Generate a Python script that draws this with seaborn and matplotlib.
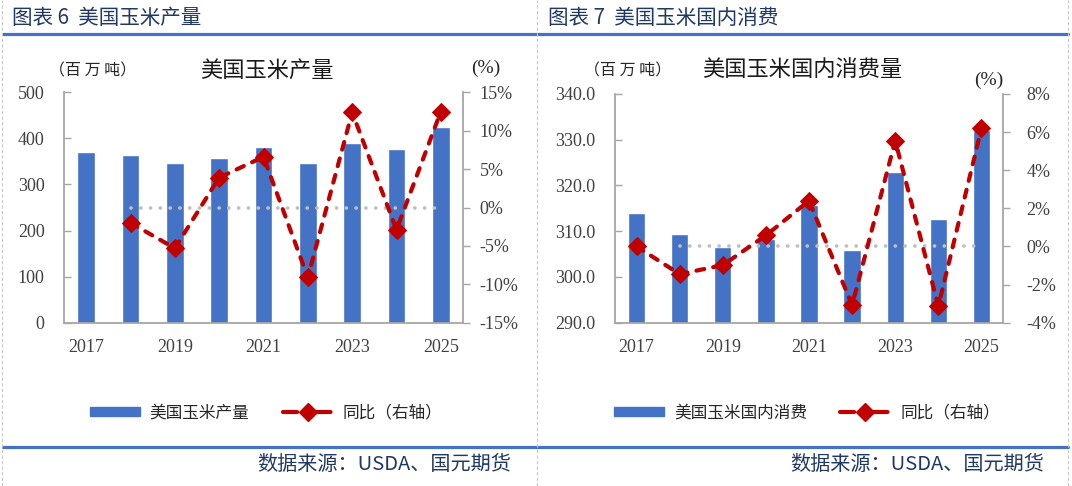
import numpy as np
import pandas as pd
import matplotlib
matplotlib.use("Agg")
import matplotlib.pyplot as plt
from matplotlib.patches import Patch
from matplotlib.lines import Line2D
import seaborn as sns

# data
years = ["2017", "2018", "2019", "2020", "2021", "2022", "2023", "2024", "2025"]
year_labels = ["2017", "", "2019", "", "2021", "", "2023", "", "2025"]

prod = [371, 364, 346, 358, 382, 347, 389, 378, 425]               # 百万吨
prod_yoy = [np.nan, -2.0, -5.3, 3.9, 6.6, -9.1, 12.4, -2.9, 12.5]   # %

cons = [314.0, 309.5, 306.5, 308.2, 315.7, 305.9, 322.9, 312.7, 332.1]
cons_yoy = [0.0, -1.45, -0.98, 0.58, 2.4, -3.08, 5.55, -3.13, 6.19]

zero_line = [np.nan, 0, 0, 0, 0, 0, 0, 0, 0]

sns.set_theme(style="white")
plt.rcParams['font.family'] = ['Noto Sans CJK SC', 'DejaVu Sans']

BLUE = "#4472C4"
RED = "#C00000"
NAVY = "#1F3864"
GREY_TXT = "#404040"
SPINE = "#A6A6A6"
SERIF = "Liberation Serif"

fig = plt.figure(figsize=(10.72, 4.86), dpi=100)


def panel(rect, vals, yoy, ylim, yticks, yfmt, y2lim, y2ticks, title, bar_name,
          title_x, unit_x, pct_xy, leg_x, r_pad):
    ax = fig.add_axes(rect)
    df = pd.DataFrame({"year": years, "v": vals, "yoy": yoy, "zero": zero_line})
    df["pos"] = np.arange(len(years))
    sns.barplot(data=df, x="year", y="v", color=BLUE, saturation=1, width=0.4, ax=ax)
    ax.set_xlim(-0.5, len(years) - 0.5)
    ax.set_ylim(*ylim)
    ax.set_yticks(yticks)
    ax.set_yticklabels([yfmt.format(t) for t in yticks], fontfamily=SERIF,
                       fontsize=13, color=GREY_TXT)
    ax.set_xticks(range(len(years)))
    ax.set_xticklabels(year_labels, fontfamily=SERIF, fontsize=13, color=GREY_TXT)
    ax.set_xticks([1.5, 3.5, 5.5, 7.5], minor=True)
    ax.tick_params(axis="x", which="major", length=0, pad=12)
    ax.tick_params(axis="x", which="minor", length=4, direction="in", color=SPINE, width=1)
    ax.tick_params(axis="y", length=5, direction="in", color=SPINE, width=1, pad=14)
    ax.set_xlabel("")
    ax.set_ylabel("")
    for s in ["top", "right"]:
        ax.spines[s].set_visible(False)
    for s in ["left", "bottom"]:
        ax.spines[s].set_color(SPINE)
        ax.spines[s].set_linewidth(1.3)

    ax2 = ax.twinx()
    sns.lineplot(data=df, x="pos", y="zero", ax=ax2, color="#BFBFBF", linewidth=2.7)
    zl = ax2.lines[-1]
    zl.set_dashes((0.01, 2.6))
    zl.set_dash_capstyle("round")
    sns.lineplot(data=df, x="pos", y="yoy", ax=ax2, color=RED, linewidth=3,
                 marker="D", markersize=9, markeredgecolor=RED)
    rl = ax2.lines[-1]
    rl.set_dashes((1.9, 2.2))
    rl.set_dash_capstyle("round")
    ax2.set_ylim(*y2lim)
    ax2.set_yticks(y2ticks)
    ax2.set_yticklabels([f"{t:g}%" for t in y2ticks], fontfamily=SERIF,
                        fontsize=13, color=GREY_TXT)
    ax2.tick_params(axis="y", length=5, direction="out", color=SPINE, width=1, pad=r_pad)
    ax2.set_ylabel("")
    ax2.set_xlim(-0.5, len(years) - 0.5)
    for s in ["top", "left", "bottom"]:
        ax2.spines[s].set_visible(False)
    ax2.spines["right"].set_color(SPINE)
    ax2.spines["right"].set_linewidth(1.3)

    fig.text(title_x / 1072, 1 - 70 / 486, title, ha="center", va="center",
             fontsize=16, color="#1A1A1A")
    fig.text(unit_x / 1072, 1 - 71 / 486, "（百 万 吨）", ha="center", va="center",
             fontsize=11.5, color="#262626")
    fig.text(pct_xy[0] / 1072, 1 - pct_xy[1] / 486, "(%)", ha="center", va="center",
             fontsize=14, fontfamily=SERIF, color="#262626")

    handles = [Patch(facecolor=BLUE, edgecolor=BLUE),
               Line2D([], [], color=RED, lw=3, linestyle=(0, (3.4, 4.6)),
                      dash_capstyle="round", marker="D", markersize=9)]
    fig.legend(handles, [bar_name, "同比（右轴）"], loc="center",
               bbox_to_anchor=(leg_x / 1072, 1 - 413 / 486), ncol=2, frameon=False,
               fontsize=12, handlelength=3, handleheight=0.5, handletextpad=0.6,
               columnspacing=2.0, labelcolor="#262626")
    return ax


panel([64 / 1072, 0.336, 399 / 1072, 0.474], prod, prod_yoy, (0, 500),
      [0, 100, 200, 300, 400, 500], "{:g}", (-15, 15), [-15, -10, -5, 0, 5, 10, 15],
      "美国玉米产量", "美国玉米产量", 267, 93, (486, 68), 266, 7)

panel([615 / 1072, 0.336, 388 / 1072, 0.4706], cons, cons_yoy, (290, 340),
      [290, 300, 310, 320, 330, 340], "{:.1f}", (-4, 8), [-4, -2, 0, 2, 4, 6, 8],
      "美国玉米国内消费量", "美国玉米国内消费", 802, 628, (989, 80), 807, 12)

# report frame: headers, blue rules, source line, separators
fig.text(12 / 1072, 1 - 18 / 486, "图表 6  美国玉米产量", ha="left", va="center",
         fontsize=14.8, color=NAVY)
fig.text(548 / 1072, 1 - 18 / 486, "图表 7  美国玉米国内消费", ha="left", va="center",
         fontsize=14.8, color=NAVY)
for y in [34, 447]:
    fig.add_artist(Line2D([3 / 1072, 1068 / 1072], [1 - y / 486, 1 - y / 486],
                          color=BLUE, lw=2.3))
fig.text(511 / 1072, 1 - 464 / 486, "数据来源：USDA、国元期货", ha="right", va="center",
         fontsize=14.5, color=NAVY)
fig.text(1044 / 1072, 1 - 464 / 486, "数据来源：USDA、国元期货", ha="right", va="center",
         fontsize=14.5, color=NAVY)
for x in [2, 537, 1068]:
    fig.add_artist(Line2D([x / 1072, x / 1072], [0, 1], color="#C8C8C8", lw=0.8,
                          linestyle=(0, (3, 2))))

fig.savefig("out.png", dpi=100)
